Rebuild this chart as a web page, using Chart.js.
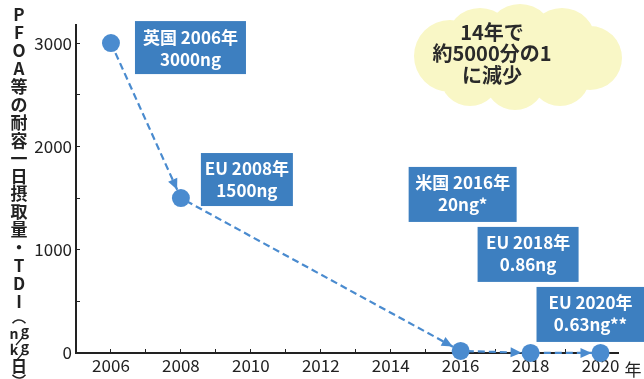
<!DOCTYPE html>
<html>
<head>
<meta charset="utf-8">
<script src="https://cdn.jsdelivr.net/npm/chart.js@4"></script>
<style>
  html, body { margin: 0; padding: 0; background: #fff; }
  #wrap { width: 644px; height: 379px; }
</style>
</head>
<body>
<div id="wrap"><canvas id="tdiChart"></canvas></div>
<script>
// data
const years = [2006, 2008, 2016, 2018, 2020];
const tdiValues = [3000, 1500, 20, 0.86, 0.63];
const boxLabels = [
  ["英国 2006年", "3000ng"],
  ["EU 2008年", "1500ng"],
  ["米国 2016年", "20ng*"],
  ["EU 2018年", "0.86ng"],
  ["EU 2020年", "0.63ng**"]
];
const yTickMarks = [0, 500, 1000, 1500, 2000, 2500, 3000];
const yLabelTicks = [0, 1000, 2000, 3000];
const xLabelTicks = [2006, 2008, 2010, 2012, 2014, 2016, 2018, 2020];
const yTitleChars = ["P","F","O","A","等","の","耐","容","一","日","摂","取","量","・","T","D","I"];
const noteLines = ["14年で", "約5000分の1", "に減少"];

// box placement relative to each point (dx, dy, w, h)
const boxLayout = [
  [24, -22, 111, 53],
  [20, -45, 92, 53],
  [-52, -184, 108, 55],
  [-53, -126, 101, 55],
  [-64, -66, 108, 55]
];

const FONT = "'Noto Sans CJK JP', 'Noto Sans', sans-serif";
const BLUE = "#4a8bcf";
const BOX = "#3d7fc0";
const INK = "#222";

function cloud(ctx) {
  ctx.save();
  ctx.fillStyle = "#f9f7c6";
  ctx.beginPath();
  ctx.ellipse(516, 60, 100, 38, 0, 0, Math.PI * 2);
  // soft, wide lobes
  const lobes = [[450,56,36],[480,42,34],[520,38,34],[562,42,34],[590,58,32],[560,76,30],[515,80,30],[470,76,30]];
  lobes.forEach(b => { ctx.moveTo(b[0] + b[2], b[1]); ctx.arc(b[0], b[1], b[2], 0, Math.PI * 2); });
  ctx.fill();
  ctx.fillStyle = "#2a2a2a";
  ctx.font = "bold 20px " + FONT;
  ctx.textAlign = "center";
  ctx.textBaseline = "middle";
  noteLines.forEach((t, i) => ctx.fillText(t, 492, 32 + i * 21.5));
  ctx.restore();
}

const decor = {
  id: "decor",
  beforeDatasetsDraw(chart) {
    cloud(chart.ctx);
  },
  afterDatasetsDraw(chart) {
    const ctx = chart.ctx;
    const xs = chart.scales.x, ys = chart.scales.y;
    const pts = years.map((yr, i) => [xs.getPixelForValue(yr), ys.getPixelForValue(tdiValues[i])]);
    // arrow heads
    ctx.save();
    ctx.fillStyle = BLUE;
    for (let i = 1; i < pts.length; i++) {
      const [x0, y0] = pts[i - 1], [x1, y1] = pts[i];
      const len = Math.hypot(x1 - x0, y1 - y0);
      const ux = (x1 - x0) / len, uy = (y1 - y0) / len;
      const tx = x1 - ux * 9, ty = y1 - uy * 9;
      const bx = tx - ux * 11, by = ty - uy * 11;
      ctx.beginPath();
      ctx.moveTo(tx, ty);
      ctx.lineTo(bx - uy * 5, by + ux * 5);
      ctx.lineTo(bx + uy * 5, by - ux * 5);
      ctx.closePath();
      ctx.fill();
    }
    ctx.restore();
  },
  afterDraw(chart) {
    const ctx = chart.ctx;
    const xs = chart.scales.x, ys = chart.scales.y;
    ctx.save();
    // label boxes
    ctx.textAlign = "center";
    ctx.textBaseline = "middle";
    ctx.font = "bold 17px " + FONT;
    years.forEach((yr, i) => {
      const px = xs.getPixelForValue(yr), py = ys.getPixelForValue(tdiValues[i]);
      const [dx, dy, w, h] = boxLayout[i];
      const x = px + dx, y = py + dy;
      ctx.fillStyle = BOX;
      ctx.fillRect(x, y, w, h);
      ctx.fillStyle = "#fff";
      ctx.fillText(boxLabels[i][0], x + w / 2, y + 16);
      ctx.fillText(boxLabels[i][1], x + w / 2, y + 38);
    });
    // axis unit
    ctx.fillStyle = INK;
    ctx.font = "17px " + FONT;
    ctx.fillText("年", 633, 370);
    // vertical y title
    ctx.font = "bold 17px " + FONT;
    yTitleChars.forEach((c, i) => ctx.fillText(c, 19, 15 + i * 17.9));
    ctx.strokeStyle = INK;
    ctx.lineWidth = 1.5;
    ctx.beginPath();
    ctx.arc(19, 328, 8, Math.PI * 1.2, Math.PI * 1.8);
    ctx.stroke();
    ctx.font = "bold 14px " + FONT;
    ctx.fillText("n", 14, 334); ctx.fillText("g", 25, 331);
    ctx.fillText("k", 14, 350); ctx.fillText("g", 25, 347);
    ctx.lineWidth = 1.2;
    ctx.beginPath();
    ctx.moveTo(23, 337); ctx.lineTo(16, 345);
    ctx.moveTo(23, 353); ctx.lineTo(16, 361);
    ctx.stroke();
    ctx.font = "bold 16px " + FONT;
    ctx.fillText("日", 19, 366);
    ctx.lineWidth = 1.5;
    ctx.beginPath();
    ctx.arc(19, 370, 8, Math.PI * 0.2, Math.PI * 0.8);
    ctx.stroke();
    ctx.restore();
  }
};

new Chart(document.getElementById("tdiChart"), {
  type: "line",
  data: {
    datasets: [{
      data: years.map((yr, i) => ({ x: yr, y: tdiValues[i] })),
      borderColor: BLUE,
      borderWidth: 2.2,
      borderDash: [7, 4],
      pointRadius: 9,
      pointBackgroundColor: BLUE,
      pointBorderWidth: 0,
      clip: false,
      tension: 0
    }]
  },
  options: {
    responsive: true,
    maintainAspectRatio: false,
    animation: false,
    layout: { padding: { top: 25, right: 26, bottom: 0, left: 0 } },
    plugins: { legend: { display: false }, tooltip: { enabled: false } },
    scales: {
      x: {
        type: "linear",
        min: 2005,
        max: 2020.5,
        afterBuildTicks: s => {
          const marks = [];
          for (let v = 2005; v <= 2020; v++) marks.push({ value: v });
          s.ticks = marks;
        },
        afterFit: s => { s.height = 26; },
        ticks: {
          autoSkip: false,
          maxRotation: 0,
          padding: 6,
          color: INK,
          font: { family: FONT, size: 17 },
          callback: v => xLabelTicks.includes(v) ? String(v) : ""
        },
        grid: { drawOnChartArea: false, drawTicks: true, tickLength: -4, color: INK },
        border: { color: INK, width: 2 }
      },
      y: {
        min: 0,
        max: 3175,
        afterBuildTicks: s => { s.ticks = yTickMarks.map(v => ({ value: v })); },
        afterFit: s => { s.width = 76; },
        ticks: {
          autoSkip: false,
          padding: 8,
          color: INK,
          font: { family: FONT, size: 17 },
          callback: v => yLabelTicks.includes(v) ? String(v) : ""
        },
        grid: { drawOnChartArea: false, drawTicks: true, tickLength: -4, color: INK },
        border: { color: INK, width: 2 }
      }
    }
  },
  plugins: [decor]
});
</script>
</body>
</html>
